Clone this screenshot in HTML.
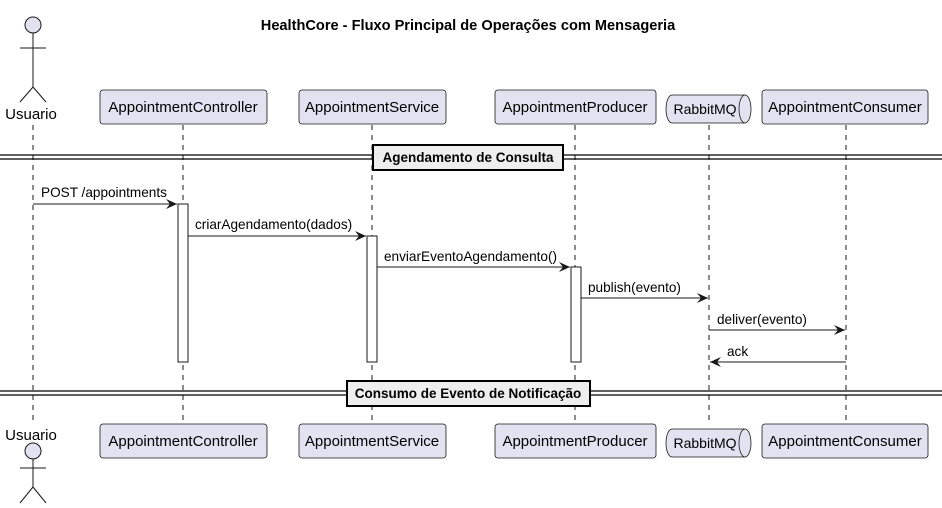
<!DOCTYPE html>
<html><head><meta charset="utf-8"><style>
body{margin:0;background:#fff}
svg{display:block;font-family:"Liberation Sans",sans-serif}
</style></head><body>
<svg width="942" height="508" viewBox="0 0 942 508" xmlns="http://www.w3.org/2000/svg">
<defs><marker id="a" markerWidth="12" markerHeight="10" refX="11" refY="5" orient="auto" markerUnits="userSpaceOnUse"><path d="M0,0 L11,5 L0,10 L4,5 Z" fill="#181818"/></marker></defs>
<text x="468" y="30" text-anchor="middle" font-size="14.6" font-weight="bold" fill="#000">HealthCore - Fluxo Principal de Operações com Mensageria</text>
<g stroke="#181818" stroke-width="1" stroke-dasharray="5,5" fill="none">
<line x1="33" y1="125" x2="33" y2="425"/>
<line x1="183" y1="125" x2="183" y2="424"/>
<line x1="372" y1="125" x2="372" y2="424"/>
<line x1="575" y1="125" x2="575" y2="424"/>
<line x1="709" y1="125" x2="709" y2="424"/>
<line x1="846" y1="125" x2="846" y2="424"/>
</g>
<g stroke="#181818" stroke-width="1" fill="#E2E2F0">
<circle cx="33" cy="25" r="8"/>
<line x1="33" y1="33" x2="33" y2="87"/><line x1="20" y1="48" x2="46" y2="48"/>
<line x1="33" y1="87" x2="20" y2="102"/><line x1="33" y1="87" x2="46" y2="102"/>
<circle cx="33" cy="451" r="8"/>
<line x1="33" y1="459" x2="33" y2="487"/><line x1="20" y1="468" x2="46" y2="468"/>
<line x1="33" y1="487" x2="20" y2="503"/><line x1="33" y1="487" x2="46" y2="503"/>
</g>
<g font-size="15" fill="#000" text-anchor="middle">
<text x="31" y="119">Usuario</text><text x="31" y="440">Usuario</text>
</g>
<g stroke="#181818" stroke-width="0.8" fill="#E2E2F0">
<rect x="100" y="90" width="167" height="34" rx="3"/>
<rect x="299" y="90" width="147" height="34" rx="3"/>
<rect x="495" y="90" width="161" height="34" rx="3"/>
<rect x="762" y="90" width="166" height="34" rx="3"/>
<rect x="100" y="424" width="167" height="34" rx="3"/>
<rect x="299" y="424" width="147" height="34" rx="3"/>
<rect x="495" y="424" width="161" height="34" rx="3"/>
<rect x="762" y="424" width="166" height="34" rx="3"/>
<path d="M672,95 H745 A6,14 0 0 1 745,123 H672 A6,14 0 0 1 672,95 Z"/>
<path d="M745,95 A6,14 0 0 0 745,123"/>
<path d="M672,429 H745 A6,14 0 0 1 745,457 H672 A6,14 0 0 1 672,429 Z"/>
<path d="M745,429 A6,14 0 0 0 745,457"/>
</g>
<g font-size="15" fill="#000" text-anchor="middle">
<text x="183" y="112">AppointmentController</text>
<text x="372" y="112">AppointmentService</text>
<text x="575" y="112">AppointmentProducer</text>
<text x="845" y="112">AppointmentConsumer</text>
<text x="183" y="446">AppointmentController</text>
<text x="372" y="446">AppointmentService</text>
<text x="575" y="446">AppointmentProducer</text>
<text x="845" y="446">AppointmentConsumer</text>
</g>
<g font-size="14" fill="#000" text-anchor="middle">
<text x="705" y="114">RabbitMQ</text>
<text x="705" y="448">RabbitMQ</text>
</g>
<g stroke="#000" stroke-width="1.2">
<line x1="0" y1="155" x2="942" y2="155"/><line x1="0" y1="159" x2="942" y2="159"/>
<line x1="0" y1="391" x2="942" y2="391"/><line x1="0" y1="395" x2="942" y2="395"/>
</g>
<rect x="373" y="145" width="190" height="25" fill="#EEEEEE" stroke="#000" stroke-width="2"/>
<rect x="347" y="381" width="243" height="25" fill="#EEEEEE" stroke="#000" stroke-width="2"/>
<g font-size="13.5" font-weight="bold" text-anchor="middle" fill="#000">
<text x="468" y="162">Agendamento de Consulta</text>
<text x="468" y="398">Consumo de Evento de Notificação</text>
</g>
<g fill="#fff" stroke="#181818" stroke-width="1">
<rect x="178" y="204" width="10" height="158"/>
<rect x="367" y="236" width="10" height="126"/>
<rect x="571" y="267" width="10" height="95"/>
</g>
<g stroke="#181818" stroke-width="1" marker-end="url(#a)">
<line x1="33" y1="204" x2="177" y2="204"/>
<line x1="188" y1="236" x2="366" y2="236"/>
<line x1="377" y1="267" x2="570" y2="267"/>
<line x1="581" y1="298" x2="708" y2="298"/>
<line x1="709" y1="330" x2="845" y2="330"/>
<line x1="846" y1="362" x2="710" y2="362"/>
</g>
<g font-size="13.6" fill="#000">
<text x="41" y="197">POST /appointments</text>
<text x="195" y="229">criarAgendamento(dados)</text>
<text x="384" y="261">enviarEventoAgendamento()</text>
<text x="588" y="292">publish(evento)</text>
<text x="717" y="324">deliver(evento)</text>
<text x="727" y="356">ack</text>
</g>
</svg>
</body></html>
